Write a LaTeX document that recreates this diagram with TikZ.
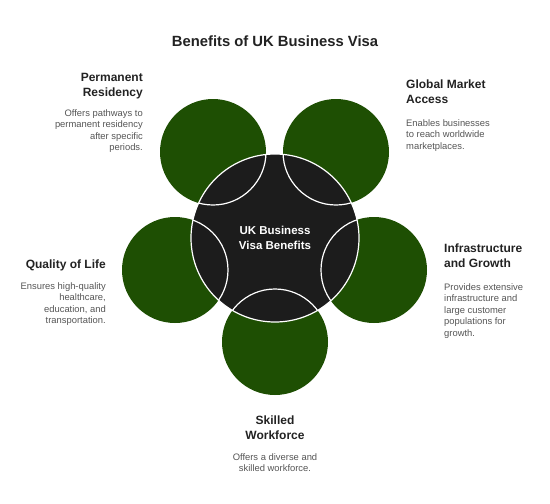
\documentclass[tikz,border=0pt]{standalone}
\usepackage{fontspec}
\setmainfont{Liberation Sans}
\usetikzlibrary{positioning}
\definecolor{leafgreen}{HTML}{1E4F03}
\definecolor{coredark}{HTML}{1C1C1C}
\definecolor{inkdark}{HTML}{222222}
\definecolor{inkgray}{HTML}{555555}
\tikzset{%
    rim/.style={white,line width=1.2pt},
    head/.style={inner sep=0pt,font=\bfseries\fontsize{12}{15}\selectfont,text=inkdark},
    blurb/.style={inner sep=0pt,font=\fontsize{9.4}{11.5}\selectfont,text=inkgray}
}

\begin{document}
\begin{tikzpicture}[x=1pt,y=-1pt]
        \useasboundingbox (0,0) rectangle (550,504);
        % the five outer circles
        \fill[leafgreen] (213,152) circle (53);
        \fill[leafgreen] (336,152) circle (53);
        \fill[leafgreen] (374,270) circle (53);
        \fill[leafgreen] (275,342) circle (53);
        \fill[leafgreen] (175,270) circle (53);
        % the core
        \draw[rim,fill=coredark] (275,238) circle (84);
        \begin{scope}
            \clip (275,238) circle (84);
            \foreach \p in {(213,152),(336,152),(374,270),(275,342),(175,270)}
                \draw[rim] \p circle (53);
        \end{scope}
        \node[inner sep=0pt,align=center,text=white,font=\bfseries\fontsize{11.5}{15}\selectfont] (core) at (275,238) {UK Business\\Visa Benefits};
        % title
        \node[inner sep=0pt,anchor=north,text=inkdark,font=\bfseries\fontsize{14.8}{17}\selectfont] (title) at (275,36) {Benefits of UK Business Visa};
        % labels
        \node[head,anchor=north east,align=right] (res) at (143,73) {Permanent\\Residency};
        \node[blurb,anchor=north east,align=right] (resd) at (143,109) {Offers pathways to\\permanent residency\\after specific\\periods.};
        \node[head,anchor=north west,align=left] (glob) at (406,80) {Global Market\\Access};
        \node[blurb,anchor=north west,align=left] (globd) at (406,119) {Enables businesses\\to reach worldwide\\marketplaces.};
        \node[head,anchor=north east,align=right] (life) at (106,260) {Quality of Life};
        \node[blurb,anchor=north east,align=right] (lifed) at (106,282) {Ensures high-quality\\healthcare,\\education, and\\transportation.};
        \node[head,anchor=north west,align=left] (infra) at (444,244) {Infrastructure\\and Growth};
        \node[blurb,anchor=north west,align=left] (infrad) at (444,283) {Provides extensive\\infrastructure and\\large customer\\populations for\\growth.};
        \node[head,anchor=north,align=center] (work) at (275,416) {Skilled\\Workforce};
        \node[blurb,anchor=north,align=center] (workd) at (275,453) {Offers a diverse and\\skilled workforce.};
    \end{tikzpicture}
\end{document}
